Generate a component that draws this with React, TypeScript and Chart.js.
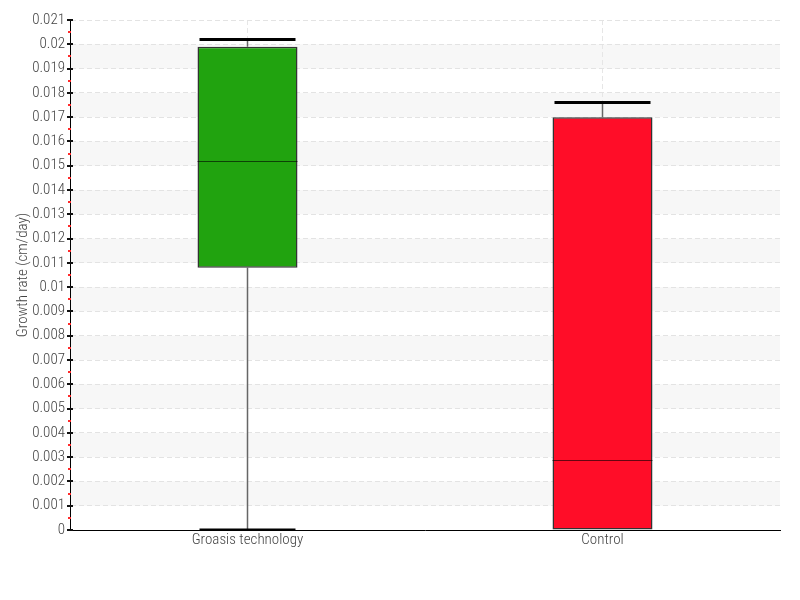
import React, { useEffect, useRef } from "react";
import { Chart, registerables } from "chart.js";

Chart.register(...registerables);

const categories = ["Groasis technology", "Control"];
const whiskerLow = [0, 0];
const q1 = [0.0108, 0];
const median = [0.0152, 0.0029];
const q3 = [0.0199, 0.017];
const whiskerHigh = [0.0202, 0.0176];
const boxColors = ["#21a30f", "#ff0d28"];
const yMin = 0;
const yMax = 0.021;
const yStep = 0.001;
const yTitle = "Growth rate (cm/day)";

const FONT = "'Roboto Condensed', 'DejaVu Sans Condensed', sans-serif";

const boxPlugin = {
  id: "boxExtras",
  beforeDraw(chart: any) {
    const { ctx, chartArea } = chart;
    const y = chart.scales.y;
    ctx.save();
    ctx.fillStyle = "#f7f7f7";
    let k = 0;
    for (let v = yMax; v > yMin + 1e-9; v -= yStep, k++) {
      if (k % 2 === 1) {
        const top = y.getPixelForValue(v);
        const bot = y.getPixelForValue(v - yStep);
        ctx.fillRect(chartArea.left, top, chartArea.right - chartArea.left, bot - top);
      }
    }
    ctx.restore();
  },
  beforeDatasetsDraw(chart: any) {
    const { ctx, chartArea } = chart;
    const x = chart.scales.x;
    const y = chart.scales.y;
    const meta = chart.getDatasetMeta(0);
    ctx.save();
    ctx.beginPath();
    ctx.rect(chartArea.left, chartArea.top, chartArea.right - chartArea.left, chartArea.bottom - chartArea.top);
    ctx.clip();
    categories.forEach((_, i) => {
      const cx = x.getPixelForValue(i);
      const w = meta.data[i].width;
      const cw = w * 0.96;
      const pairs = [
        [q3[i], whiskerHigh[i]],
        [q1[i], whiskerLow[i]],
      ];
      pairs.forEach(([qv, wv]) => {
        if (qv === wv) return;
        const pq = y.getPixelForValue(qv);
        const pw = y.getPixelForValue(wv);
        ctx.strokeStyle = "#666";
        ctx.lineWidth = 1.5;
        ctx.beginPath();
        ctx.moveTo(cx, pq);
        ctx.lineTo(cx, pw);
        ctx.stroke();
        ctx.strokeStyle = "#000";
        ctx.lineWidth = 3;
        ctx.beginPath();
        ctx.moveTo(cx - cw / 2, pw);
        ctx.lineTo(cx + cw / 2, pw);
        ctx.stroke();
      });
    });
    ctx.restore();
  },
  afterDatasetsDraw(chart: any) {
    const { ctx } = chart;
    const x = chart.scales.x;
    const y = chart.scales.y;
    const meta = chart.getDatasetMeta(0);
    ctx.save();
    categories.forEach((_, i) => {
      const cx = x.getPixelForValue(i);
      const w = meta.data[i].width;
      const py = Math.round(y.getPixelForValue(median[i])) + 0.5;
      ctx.strokeStyle = "rgba(0,0,0,0.6)";
      ctx.lineWidth = 1;
      ctx.beginPath();
      ctx.moveTo(cx - w / 2, py);
      ctx.lineTo(cx + w / 2, py);
      ctx.stroke();
    });
    const axX = Math.round(chart.chartArea.left);
    for (let k = 0; k <= Math.round((yMax - yMin) / (yStep / 2)); k++) {
      const v = yMin + (k * yStep) / 2;
      const py = Math.round(y.getPixelForValue(v));
      const major = k % 2 === 0;
      ctx.fillStyle = major ? "#111" : "#ff2a2a";
      if (major) {
        ctx.fillRect(axX - 3, py - 1, 6, 2);
      } else {
        ctx.fillRect(axX - 2, py - 1, 3, 2);
      }
    }
    ctx.restore();
  },
};

export default function App() {
  const ref = useRef<HTMLCanvasElement>(null);
  useEffect(() => {
    if (!ref.current) return;
    const chart = new Chart(ref.current, {
      type: "bar",
      data: {
        labels: categories,
        datasets: [
          {
            data: categories.map((_, i) => [q1[i], q3[i]]) as any,
            backgroundColor: boxColors,
            borderColor: "#333",
            borderWidth: 1.5,
            borderSkipped: false,
            inflateAmount: 0,
            categoryPercentage: 1,
            barPercentage: 0.2817,
          } as any,
        ],
      },
      options: {
        animation: false,
        responsive: true,
        maintainAspectRatio: false,
        layout: { padding: { top: 20, right: 20, left: 0, bottom: 0 } },
        plugins: { legend: { display: false }, tooltip: { enabled: false } },
        scales: {
          x: {
            afterFit: (s: any) => {
              s.height = 70;
            },
            grid: {
              offset: false,
              color: "#e6e6e6",
              drawTicks: false,
            },
            border: { color: "#000", width: 1, dash: [5, 3] } as any,
            ticks: { color: "#444", font: { family: FONT, size: 15, weight: 300 as any }, padding: 1 },
          },
          y: {
            min: yMin,
            max: yMax,
            afterFit: (s: any) => {
              s.width = 70;
            },
            grid: { color: "#e3e3e3", drawTicks: false },
            border: { color: "#000", width: 1, dash: [5, 3] } as any,
            ticks: {
              stepSize: yStep,
              color: "#444",
              padding: 5,
              font: { family: FONT, size: 15, weight: 300 as any },
              callback: (v: any) => Number(Number(v).toFixed(3)).toString(),
            },
            title: {
              display: true,
              text: yTitle,
              color: "#444",
              font: { family: FONT, size: 15, weight: 300 as any },
              padding: { top: 14, bottom: 0 },
            },
          },
        },
      },
      plugins: [boxPlugin],
    });
    return () => chart.destroy();
  }, []);
  return (
    <div style={{ position: "absolute", left: 0, top: 0, width: 800, height: 600 }}>
      <canvas ref={ref} />
    </div>
  );
}
